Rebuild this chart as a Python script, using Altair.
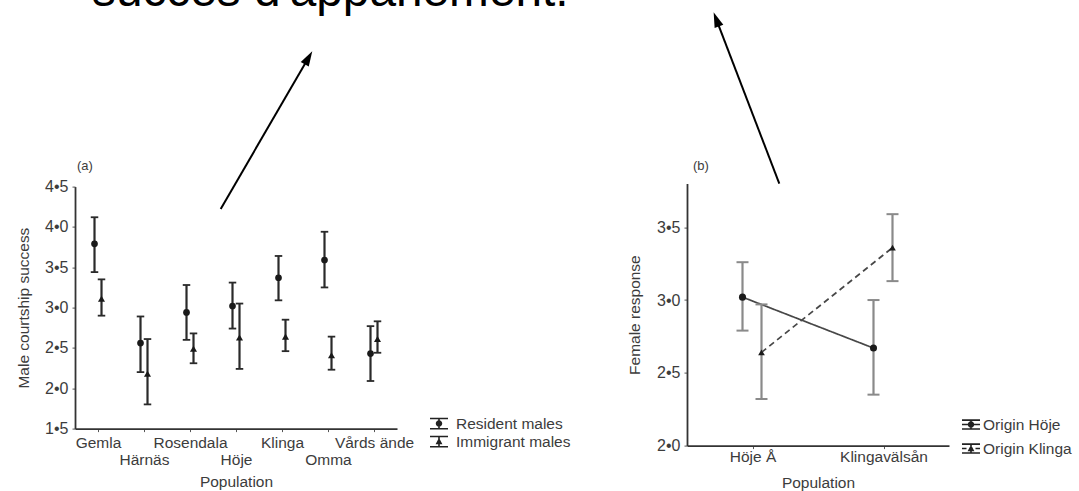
import json
import altair as alt
import pandas as pd

# ---------------- data ----------------
populations = ["Gemla", "Härnäs", "Rosendala", "Höje", "Klinga", "Omma", "Vårds ände"]
series_a = ["Resident males", "Immigrant males"]
resident_mean = [3.79, 2.56, 2.94, 3.02, 3.37, 3.59, 2.43]
resident_upper = [4.12, 2.89, 3.28, 3.31, 3.64, 3.94, 2.77]
resident_lower = [3.44, 2.20, 2.60, 2.74, 3.09, 3.25, 2.09]
immigrant_mean = [3.11, 2.18, 2.49, 2.63, 2.64, 2.41, 2.61]
immigrant_upper = [3.35, 2.61, 2.68, 3.05, 2.85, 2.64, 2.83]
immigrant_lower = [2.90, 1.80, 2.31, 2.24, 2.46, 2.23, 2.44]
y_ticks_a = [1.5, 2.0, 2.5, 3.0, 3.5, 4.0, 4.5]

sites_b = ["Höje Å", "Klingavälsån"]
series_b = ["Origin Höje", "Origin Klinga"]
hoje_mean = [3.02, 2.67]
hoje_upper = [3.26, 3.00]
hoje_lower = [2.79, 2.35]
klinga_mean = [2.64, 3.36]
klinga_upper = [2.97, 3.59]
klinga_lower = [2.32, 3.13]
y_ticks_b = [2.0, 2.5, 3.0, 3.5]

heading = "succès d'appariement."

# ---------------- tables ----------------
rows_a = []
for s, m, lo, hi in [(series_a[0], resident_mean, resident_lower, resident_upper),
                     (series_a[1], immigrant_mean, immigrant_lower, immigrant_upper)]:
    for p, mv, l, h in zip(populations, m, lo, hi):
        rows_a.append({"population": p, "series": s, "mean": mv, "lower": l, "upper": h})
df_a = pd.DataFrame(rows_a)

rows_b = []
for s, m, lo, hi in [(series_b[0], hoje_mean, hoje_lower, hoje_upper),
                     (series_b[1], klinga_mean, klinga_lower, klinga_upper)]:
    for p, mv, l, h in zip(sites_b, m, lo, hi):
        rows_b.append({"site": p, "series": s, "mean": mv, "lower": l, "upper": h})
df_b = pd.DataFrame(rows_b)

one = pd.DataFrame({"k": [0]})

FONT = "Liberation Sans"
TXT = "#3c3c3c"
DOT_EXPR = "replace(format(datum.value, '.1f'), '.', '•')"

# legend glyphs (filled shapes only, inside the [-1, 1] symbol box)
CAPS_A = "M-1,-0.66H1V-0.48H-1ZM-1,0.48H1V0.66H-1ZM-0.09,-0.6H0.09V0.6H-0.09Z"
DOT = "M0.36,0A0.36,0.36 0 1 1 -0.36,0A0.36,0.36 0 1 1 0.36,0Z"
TRI = "M0,-0.42L0.38,0.3L-0.38,0.3Z"
CAPS_B = "M-1,-0.58H1V-0.41H-1ZM-1,0.41H1V0.58H-1ZM-0.09,-0.5H0.09V0.5H-0.09Z"
THRU_SOLID = "M-1,-0.08H1V0.08H-1Z"
THRU_DASH = "M-1,-0.08H-0.5V0.08H-1ZM0.5,-0.08H1V0.08H0.5Z"

# ---------------- panel (a) ----------------
second_row = json.dumps(populations[1::2], ensure_ascii=False)
x_a = alt.X(
    "population:N", sort=populations,
    scale=alt.Scale(type="point", padding=0.5),
    axis=alt.Axis(
        title="Population", labelAngle=0, labelOverlap=False,
        labelExpr=f"indexof({second_row}, datum.value) >= 0 ? ['', datum.value] : datum.value",
        labelLineHeight=17, labelPadding=4, tickSize=3, titlePadding=6,
        domainColor="#333333", domainWidth=1.8, tickColor="#555555",
        labelFontSize=15.5, titleFontSize=15.5, labelColor=TXT, titleColor=TXT,
        titleFontWeight="normal", labelFont=FONT, titleFont=FONT,
    ),
)
y_scale_a = alt.Scale(domain=[1.5, 4.5], range=[245, 3], nice=False, zero=False)
y_axis_a = alt.Axis(
    title="Male courtship success", values=y_ticks_a, labelExpr=DOT_EXPR,
    grid=False, tickSize=3, labelPadding=4, titlePadding=13.5,
    domainColor="#333333", domainWidth=1.8, tickColor="#555555",
    labelFontSize=16, titleFontSize=15.5, labelColor=TXT, titleColor=TXT,
    titleFontWeight="normal", labelFont=FONT, titleFont=FONT,
)

base_a = alt.Chart(df_a)
layers_a = []
for s, off, shape, size in [(series_a[0], -3.5, "circle", 45), (series_a[1], 3.5, "triangle-up", 50)]:
    b = base_a.transform_filter(alt.FieldEqualPredicate(field="series", equal=s))
    layers_a.append(b.mark_rule(xOffset=off, color="#2a2a2a", strokeWidth=2.2).encode(
        x=x_a, y=alt.Y("lower:Q", scale=y_scale_a, axis=y_axis_a), y2="upper:Q"))
    for fld in ["lower", "upper"]:
        layers_a.append(b.mark_tick(xOffset=off, orient="horizontal", size=7.5, thickness=1.8,
                                    color="#2a2a2a", opacity=1).encode(
            x=x_a, y=alt.Y(f"{fld}:Q", scale=y_scale_a)))
    layers_a.append(b.mark_point(xOffset=off, shape=shape, size=size, filled=True,
                                 color="#1a1a1a", opacity=1).encode(
        x=x_a, y=alt.Y("mean:Q", scale=y_scale_a)))

legend_a = base_a.transform_filter("false").mark_point(
    filled=True, color="#222222", opacity=1
).encode(
    x=x_a, y=alt.Y("mean:Q", scale=y_scale_a),
    shape=alt.Shape("series:N",
                    scale=alt.Scale(domain=series_a, range=[CAPS_A + DOT, CAPS_A + TRI]),
                    legend=alt.Legend(
                        title=None, orient="none", legendX=355, legendY=231,
                        symbolSize=324, symbolStrokeWidth=0,
                        labelFontSize=15.5, labelFont=FONT, labelColor=TXT,
                        labelOffset=8, rowPadding=-1, padding=0)),
)

tag_a = alt.Chart(one).mark_text(text="(a)", font=FONT, fontSize=13, color=TXT,
                                  align="left", baseline="middle").encode(
    x=alt.value(2), y=alt.value(-18))
head_text = alt.Chart(one).mark_text(text=heading, font=FONT, fontSize=47.8, color="black",
                                      align="left", baseline="alphabetic").encode(
    x=alt.value(17), y=alt.value(-177.5))
arrow1_line = alt.Chart(one).mark_rule(color="black", strokeWidth=2).encode(
    x=alt.value(145.7), y=alt.value(25.3), x2=alt.value(233.5), y2=alt.value(-125.8))
arrow1_head = alt.Chart(one).mark_point(shape="M0,-1L0.62,1L-0.62,1Z", size=225, angle=30.2,
                                        filled=True, color="black", opacity=1).encode(
    x=alt.value(233.5), y=alt.value(-125.8))

panel_a = alt.layer(*layers_a, legend_a, tag_a, head_text, arrow1_line, arrow1_head).properties(
    width=322, height=245)

# ---------------- panel (b) ----------------
x_b = alt.X(
    "site:N", sort=sites_b,
    scale=alt.Scale(type="point", padding=0.5),
    axis=alt.Axis(
        title="Population", labelAngle=0, labelPadding=1, tickSize=3, titlePadding=10,
        domainColor="#333333", domainWidth=1.8, tickColor="#555555",
        labelFontSize=15.5, titleFontSize=15.5, labelColor=TXT, titleColor=TXT,
        titleFontWeight="normal", labelFont=FONT, titleFont=FONT,
    ),
)
y_scale_b = alt.Scale(domain=[2.0, 3.8], nice=False, zero=False)
y_axis_b = alt.Axis(
    title="Female response", values=y_ticks_b, labelExpr=DOT_EXPR,
    grid=False, tickSize=3, labelPadding=4, titlePadding=14.5,
    domainColor="#333333", domainWidth=1.8, tickColor="#555555",
    labelFontSize=16, titleFontSize=15.5, labelColor=TXT, titleColor=TXT,
    titleFontWeight="normal", labelFont=FONT, titleFont=FONT,
)

base_b = alt.Chart(df_b)
layers_b = []
for s, off, shape, size, dash in [(series_b[0], -10, "circle", 50, [1, 0]),
                                  (series_b[1], 9, "triangle-up", 45, [6, 4])]:
    b = base_b.transform_filter(alt.FieldEqualPredicate(field="series", equal=s))
    layers_b.append(b.mark_line(xOffset=off, color="#474747", strokeWidth=1.7, strokeDash=dash).encode(
        x=x_b, y=alt.Y("mean:Q", scale=y_scale_b, axis=y_axis_b)))
    layers_b.append(b.mark_rule(xOffset=off, color="#8a8a8a", strokeWidth=2.2).encode(
        x=x_b, y=alt.Y("lower:Q", scale=y_scale_b), y2="upper:Q"))
    for fld in ["lower", "upper"]:
        layers_b.append(b.mark_tick(xOffset=off, orient="horizontal", size=12, thickness=2,
                                    color="#8a8a8a", opacity=1).encode(
            x=x_b, y=alt.Y(f"{fld}:Q", scale=y_scale_b)))
    layers_b.append(b.mark_point(xOffset=off, shape=shape, size=size, filled=True,
                                 color="#1a1a1a", opacity=1).encode(
        x=x_b, y=alt.Y("mean:Q", scale=y_scale_b)))

legend_b = base_b.transform_filter("false").mark_point(
    filled=True, color="#222222", opacity=1
).encode(
    x=x_b, y=alt.Y("mean:Q", scale=y_scale_b),
    shape=alt.Shape("series:N",
                    scale=alt.Scale(domain=series_b,
                                    range=[CAPS_B + THRU_SOLID + DOT, CAPS_B + THRU_DASH + TRI]),
                    legend=alt.Legend(
                        title=None, orient="none", legendX=275, legendY=232,
                        symbolSize=324, symbolStrokeWidth=0,
                        labelFontSize=15.5, labelFont=FONT, labelColor=TXT,
                        labelOffset=3, rowPadding=6, padding=0)),
)

tag_b = alt.Chart(one).mark_text(text="(b)", font=FONT, fontSize=13, color=TXT,
                                  align="left", baseline="middle").encode(
    x=alt.value(6), y=alt.value(-18))
arrow2_line = alt.Chart(one).mark_rule(color="black", strokeWidth=2).encode(
    x=alt.value(92.3), y=alt.value(0), x2=alt.value(29.3), y2=alt.value(-164.3))
arrow2_head = alt.Chart(one).mark_point(shape="M0,-1L0.62,1L-0.62,1Z", size=225, angle=339,
                                        filled=True, color="black", opacity=1).encode(
    x=alt.value(29.3), y=alt.value(-164.3))

panel_b = alt.layer(*layers_b, legend_b, tag_b, arrow2_line, arrow2_head).properties(
    width=262, height=262)

chart = alt.hconcat(panel_a, panel_b, spacing=290, bounds="flush").resolve_scale(
    shape="independent").resolve_legend(shape="independent").properties(
    padding={"left": 16, "top": -32.4, "right": 5, "bottom": 5},
    background="white",
).configure_view(stroke=None)

chart.save("out.html", embed_options={"renderer": "svg", "actions": False})
